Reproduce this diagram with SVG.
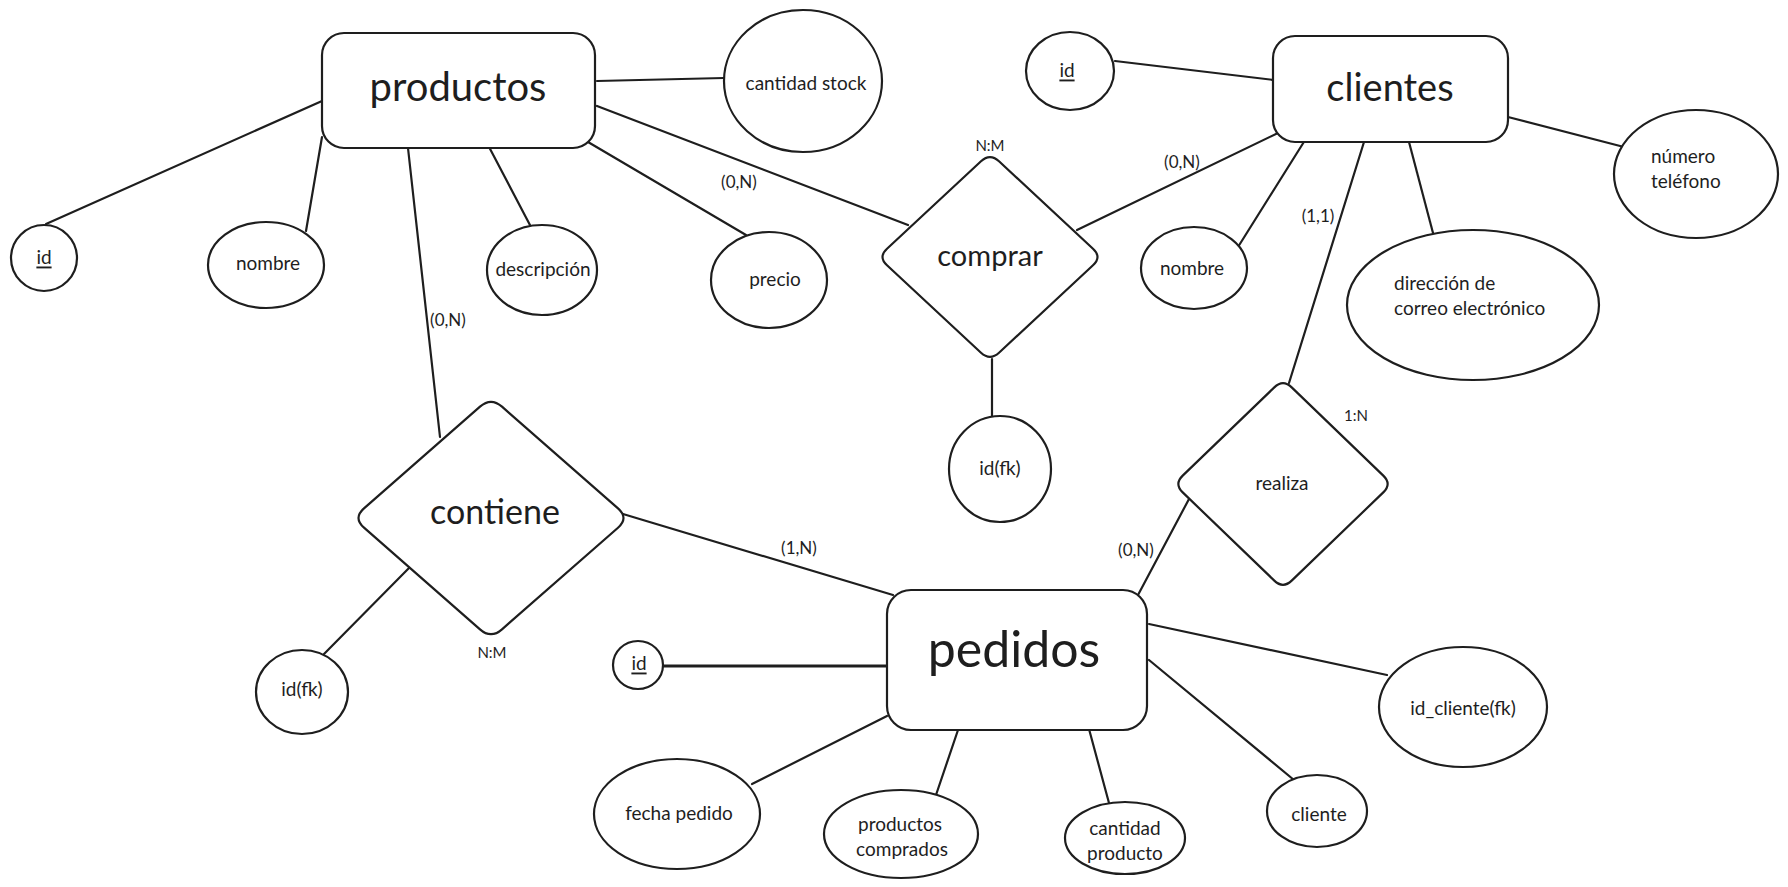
<svg xmlns="http://www.w3.org/2000/svg" width="1788" height="887" viewBox="0 0 1788 887">
<style>
.s{fill:#ffffff;stroke:#1e1e1e;stroke-width:2.2;stroke-linejoin:round}
.c line{stroke:#1e1e1e;stroke-width:2.2;stroke-linecap:round}
text{font-family:Lato,"Noto Sans",sans-serif;fill:#1e1e1e;text-anchor:middle;dominant-baseline:central}
.a{font-size:19px}
.l{font-size:17px}
.m{font-size:15px}
.u{text-decoration:underline}
</style>
<rect width="1788" height="887" fill="#ffffff"/>
<g class="c" id="connectors">
<line x1="322" y1="101" x2="46" y2="224"/>
<line x1="322" y1="137" x2="306" y2="231"/>
<line x1="408" y1="148" x2="440" y2="437"/>
<line x1="488" y1="145" x2="531" y2="227"/>
<line x1="588" y1="142" x2="746" y2="235"/>
<line x1="597" y1="81" x2="724" y2="78"/>
<line x1="597" y1="106" x2="908" y2="225"/>
<line x1="1077" y1="230" x2="1278" y2="133"/>
<line x1="992" y1="359" x2="992" y2="418"/>
<line x1="1115" y1="61" x2="1274" y2="80"/>
<line x1="1508" y1="117" x2="1624" y2="147"/>
<line x1="1307" y1="137" x2="1238" y2="247"/>
<line x1="1364" y1="142" x2="1289" y2="383"/>
<line x1="1409" y1="142" x2="1433" y2="233"/>
<line x1="1189" y1="499" x2="1138" y2="595"/>
<line x1="623" y1="514" x2="893" y2="595"/>
<line x1="409" y1="568" x2="324" y2="654"/>
<line x1="663" y1="666" x2="887" y2="666" style="stroke-width:3"/>
<line x1="887" y1="716" x2="752" y2="784"/>
<line x1="958" y1="730" x2="936" y2="795"/>
<line x1="1089" y1="729" x2="1109" y2="803"/>
<line x1="1149" y1="660" x2="1294" y2="780"/>
<line x1="1149" y1="624" x2="1387" y2="675"/>
<text class="l" x="739" y="181">(0,N)</text>
<text class="l" x="448" y="319">(0,N)</text>
<text class="m" x="990" y="145">N:M</text>
<text class="l" x="1182" y="161">(0,N)</text>
<text class="l" x="1318" y="215">(1,1)</text>
<text class="m" x="1356" y="415">1:N</text>
<text class="l" x="1136" y="549">(0,N)</text>
<text class="l" x="799" y="547">(1,N)</text>
<text class="m" x="492" y="652">N:M</text>
</g>
<g id="productos">
<rect class="s" x="322" y="33" width="273" height="115" rx="22"/>
<text x="458" y="86" style="font-size:40px">productos</text>
</g>
<g id="cantidad-stock">
<ellipse class="s" cx="803" cy="81" rx="79" ry="71"/>
<text class="a" x="806" y="82">cantidad stock</text>
</g>
<g id="productos-id">
<ellipse class="s" cx="44" cy="258" rx="33" ry="33"/>
<text class="a u" x="44" y="256">id</text>
</g>
<g id="productos-nombre">
<ellipse class="s" cx="266" cy="265" rx="58" ry="43"/>
<text class="a" x="268" y="262">nombre</text>
</g>
<g id="descripcion">
<ellipse class="s" cx="542" cy="270" rx="55" ry="45"/>
<text class="a" x="543" y="268">descripción</text>
</g>
<g id="precio">
<ellipse class="s" cx="769" cy="280" rx="58" ry="48"/>
<text class="a" x="775" y="278">precio</text>
</g>
<g id="comprar">
<path class="s" d="M999,161.3 L1093,248.7 Q1102,257 1093,265.3 L999,352.7 Q990,361 981,352.7 L887,265.3 Q878,257 887,248.7 L981,161.3 Q990,153 999,161.3 Z"/>
<text x="990" y="254" style="font-size:29px">comprar</text>
</g>
<g id="comprar-idfk">
<ellipse class="s" cx="1000" cy="469" rx="51" ry="53"/>
<text class="a" x="1000" y="467">id(fk)</text>
</g>
<g id="clientes-id">
<ellipse class="s" cx="1070" cy="71" rx="44" ry="39"/>
<text class="a u" x="1067" y="69">id</text>
</g>
<g id="clientes">
<rect class="s" x="1273" y="36" width="235" height="106" rx="22"/>
<text x="1390" y="86" style="font-size:38px">clientes</text>
</g>
<g id="numero-telefono">
<ellipse class="s" cx="1696" cy="174" rx="82" ry="64"/>
<text class="a" x="1651" y="155" style="text-anchor:start">número</text>
<text class="a" x="1651" y="180" style="text-anchor:start">teléfono</text>
</g>
<g id="clientes-nombre">
<ellipse class="s" cx="1194" cy="268" rx="53" ry="41"/>
<text class="a" x="1192" y="267">nombre</text>
</g>
<g id="correo">
<ellipse class="s" cx="1473" cy="305" rx="126" ry="75"/>
<text class="a" x="1394" y="282" style="text-anchor:start">dirección de</text>
<text class="a" x="1394" y="307" style="text-anchor:start">correo electrónico</text>
</g>
<g id="realiza">
<path class="s" d="M1291.7,387.4 L1383.3,475.6 Q1392,484 1383.3,492.4 L1291.7,580.6 Q1283,589 1274.3,580.6 L1182.7,492.4 Q1174,484 1182.7,475.6 L1274.3,387.4 Q1283,379 1291.7,387.4 Z"/>
<text class="a" x="1282" y="482">realiza</text>
</g>
<g id="contiene">
<path class="s" d="M502,406.7 L618,508.3 Q629,518 618,527.7 L502,629.3 Q491,639 480,629.3 L364,527.7 Q353,518 364,508.3 L480,406.7 Q491,397 502,406.7 Z"/>
<text x="495" y="510" style="font-size:34px">contiene</text>
</g>
<g id="contiene-idfk">
<ellipse class="s" cx="302" cy="692" rx="46" ry="42"/>
<text class="a" x="302" y="688">id(fk)</text>
</g>
<g id="pedidos">
<rect class="s" x="887" y="590" width="260" height="140" rx="24"/>
<text x="1014" y="648" style="font-size:50px">pedidos</text>
</g>
<g id="pedidos-id">
<ellipse class="s" cx="638" cy="665" rx="25" ry="24"/>
<text class="a u" x="639" y="662">id</text>
</g>
<g id="fecha-pedido">
<ellipse class="s" cx="677" cy="814" rx="83" ry="55"/>
<text class="a" x="679" y="812">fecha pedido</text>
</g>
<g id="productos-comprados">
<ellipse class="s" cx="901" cy="834" rx="77" ry="44"/>
<text class="a" x="900" y="823">productos</text>
<text class="a" x="902" y="848">comprados</text>
</g>
<g id="cantidad-producto">
<ellipse class="s" cx="1125" cy="838" rx="60" ry="36"/>
<text class="a" x="1125" y="827">cantidad</text>
<text class="a" x="1125" y="852">producto</text>
</g>
<g id="cliente">
<ellipse class="s" cx="1317" cy="811" rx="50" ry="36"/>
<text class="a" x="1319" y="813">cliente</text>
</g>
<g id="id-cliente-fk">
<ellipse class="s" cx="1463" cy="707" rx="84" ry="60"/>
<text class="a" x="1463" y="707">id_cliente(fk)</text>
</g>
</svg>
